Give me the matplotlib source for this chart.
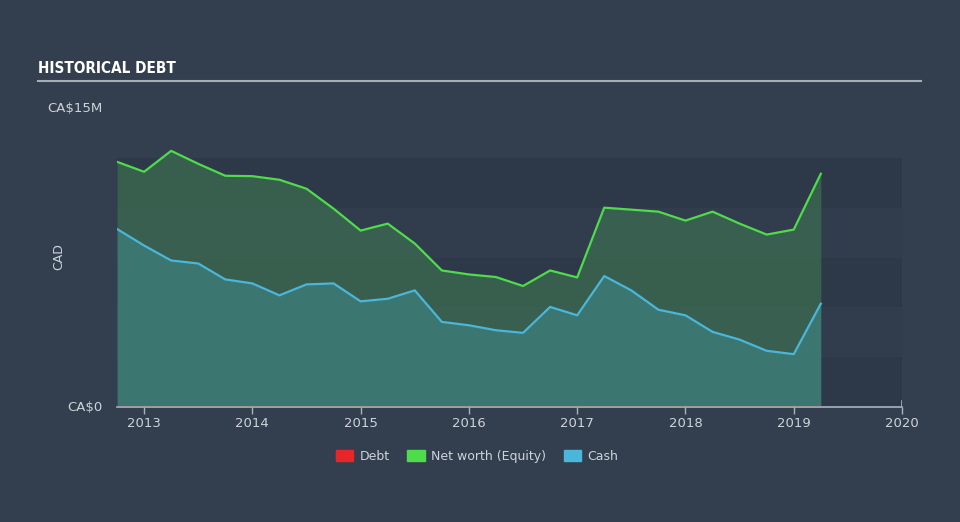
import matplotlib
matplotlib.use("Agg")
import matplotlib.pyplot as plt
from matplotlib.patches import Patch
import numpy as np

# quarterly observations (fractional year), values in CA$ millions
years = [2012.75, 2013.0, 2013.25, 2013.5, 2013.75, 2014.0, 2014.25, 2014.5, 2014.75,
         2015.0, 2015.25, 2015.5, 2015.75, 2016.0, 2016.25, 2016.5, 2016.75,
         2017.0, 2017.25, 2017.5, 2017.75, 2018.0, 2018.25, 2018.5, 2018.75,
         2019.0, 2019.25]
equity = [12.3, 11.8, 12.85, 12.2, 11.6, 11.58, 11.4, 10.95, 9.95,
          8.85, 9.2, 8.2, 6.85, 6.65, 6.52, 6.07, 6.85,
          6.5, 10.0, 9.9, 9.8, 9.35, 9.8, 9.2, 8.65,
          8.9, 11.7]
cash = [8.93, 8.1, 7.35, 7.2, 6.4, 6.2, 5.6, 6.15, 6.2,
        5.3, 5.43, 5.85, 4.27, 4.1, 3.85, 3.72, 5.02,
        4.6, 6.57, 5.85, 4.88, 4.6, 3.77, 3.38, 2.82,
        2.65, 5.18]
debt = [0.0] * len(years)

xticks = [2013, 2014, 2015, 2016, 2017, 2018, 2019, 2020]
band_edges = [0, 2.5, 5, 7.5, 10, 12.5]

BG = "#333F4F"
TXT = "#CDD3DA"
GREEN = "#4FDC4A"
BLUE = "#4AB6DA"
RED = "#E8262A"

fig = plt.figure(figsize=(9.6, 5.22), dpi=100, facecolor=BG)
ax = fig.add_axes([0.1219, 0.2203, 0.8177, 0.5728])
ax.set_facecolor(BG)

# alternating background bands
for i in range(len(band_edges) - 1):
    col = "#2D3848" if i % 2 == 0 else "#313C4C"
    ax.axhspan(band_edges[i], band_edges[i + 1], color=col, lw=0, zorder=0)

ax.fill_between(years, cash, equity, color="#3A6650", alpha=0.85, lw=0, zorder=1)
ax.fill_between(years, 0, cash, color="#3C7670", lw=0, zorder=1)
ax.plot(years, equity, color=GREEN, lw=1.6, zorder=3, solid_joinstyle="round")
ax.plot(years, cash, color=BLUE, lw=1.6, zorder=3, solid_joinstyle="round")
ax.plot(years, debt, color="#C8614E", lw=1.0, zorder=3)

ax.set_xlim(2012.75, 2020.0)
ax.set_ylim(0, 15)
ax.set_xticks(xticks)
ax.set_xticklabels([str(t) for t in xticks])
ax.set_yticks([])
ax.tick_params(axis="x", colors="#A9B2BD", labelcolor=TXT, labelsize=9.5,
               length=5, width=1, direction="out", pad=2)
for s in ["top", "right", "left"]:
    ax.spines[s].set_visible(False)
ax.spines["bottom"].set_color("#A9B2BD")
ax.spines["bottom"].set_linewidth(1.2)
ax.axvline(2020.0, ymin=0, ymax=0.02, color="#A9B2BD", lw=1.2)

fig.text(0.107, 0.793, "CA$15M", color=TXT, fontsize=9.5, ha="right", va="center")
fig.text(0.107, 0.2203, "CA$0", color=TXT, fontsize=9.5, ha="right", va="center")
fig.text(0.061, 0.508, "CAD", color=TXT, fontsize=9, rotation=90, ha="center", va="center")

fig.text(0.040, 0.869, "HISTORICAL DEBT", color="white", fontsize=11,
         fontweight="bold", family="DejaVu Sans", fontstretch="condensed",
         ha="left", va="center")
fig.add_artist(plt.Line2D([0.040, 0.959], [0.845, 0.845], color="#A4ADB8", lw=1.5))

handles = [Patch(color=RED, label="Debt"),
           Patch(color=GREEN, label="Net worth (Equity)"),
           Patch(color=BLUE, label="Cash")]
leg = fig.legend(handles=handles, loc="center", bbox_to_anchor=(0.497, 0.126), ncol=3,
                 frameon=False, fontsize=9, labelcolor=TXT, handlelength=1.4,
                 handleheight=1.0, handletextpad=0.5, columnspacing=1.4)

fig.savefig("out.png", dpi=100, facecolor=BG)
